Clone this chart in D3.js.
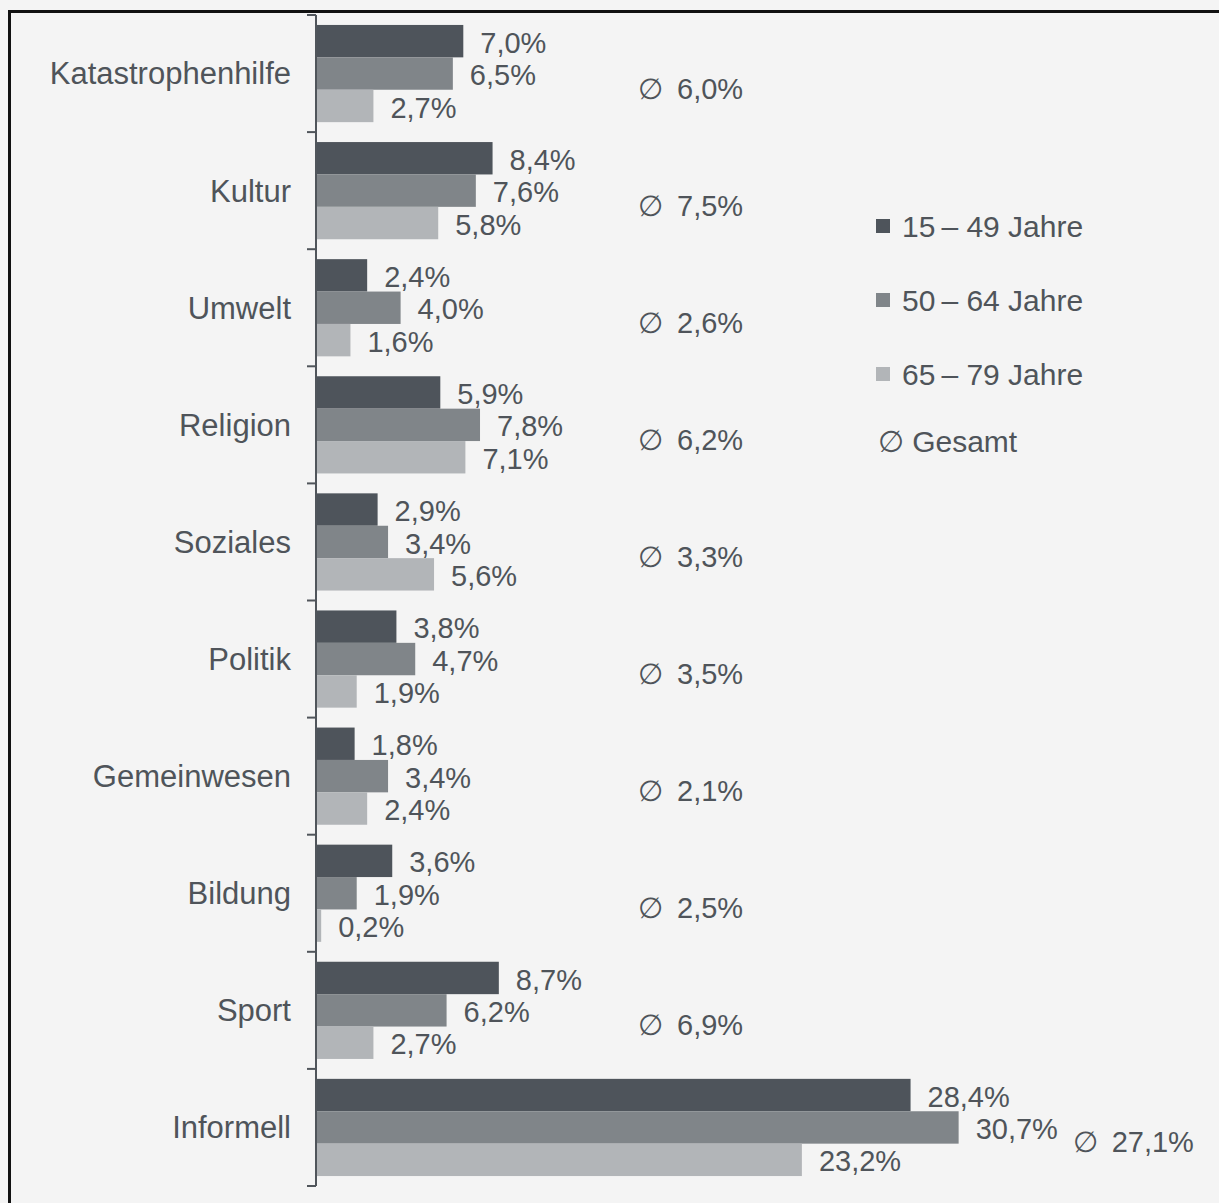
<!DOCTYPE html>
<html>
<head>
<meta charset="utf-8">
<script src="https://cdn.jsdelivr.net/npm/d3@7"></script>
<style>
  body { margin: 0; background: #f4f4f4; }
  svg { display: block; }
  text { font-family: "Liberation Sans", Arial, sans-serif; fill: #4f545a; }
</style>
</head>
<body>
<div id="chart"></div>
<script>
// data
var categories = ["Katastrophenhilfe", "Kultur", "Umwelt", "Religion", "Soziales",
                  "Politik", "Gemeinwesen", "Bildung", "Sport", "Informell"];
var age15_49 = [7.0, 8.4, 2.4, 5.9, 2.9, 3.8, 1.8, 3.6, 8.7, 28.4];
var age50_64 = [6.5, 7.6, 4.0, 7.8, 3.4, 4.7, 3.4, 1.9, 6.2, 30.7];
var age65_79 = [2.7, 5.8, 1.6, 7.1, 5.6, 1.9, 2.4, 0.2, 2.7, 23.2];
var gesamt   = [6.0, 7.5, 2.6, 6.2, 3.3, 3.5, 2.1, 2.5, 6.9, 27.1];
var seriesNames = ["15\u2009\u2013 49 Jahre", "50\u2009\u2013 64 Jahre", "65\u2009\u2013 79 Jahre"];
var colors = ["#4e545b", "#808589", "#b2b5b8"];

var width = 1219, height = 1203;

var de = d3.formatLocale({decimal: ",", thousands: ".", grouping: [3], currency: ["", " €"]});
var fmt = de.format(".1f");

var rows = categories.map(function (c, i) {
  return {cat: c, vals: [age15_49[i], age50_64[i], age65_79[i]], avg: gesamt[i]};
});

var svg = d3.select("#chart").append("svg")
    .attr("width", width)
    .attr("height", height);

svg.append("rect")
    .attr("width", width).attr("height", height)
    .attr("fill", "#f4f4f4");

// frame
svg.append("path")
    .attr("d", "M9.5," + height + "V11.5H" + width)
    .attr("fill", "none")
    .attr("stroke", "#111")
    .attr("stroke-width", 3);

var x = d3.scaleLinear().domain([0, 32]).range([317, 317 + 32 * 20.9]);

var y0 = d3.scaleBand()
    .domain(categories)
    .range([15, 1186])
    .paddingInner(0.17)
    .paddingOuter(0.085);

var y1 = d3.scaleBand()
    .domain([0, 1, 2])
    .range([0, y0.bandwidth()]);

// axis with ticks between categories
var axisG = svg.append("g");
axisG.append("line")
    .attr("x1", 316).attr("x2", 316)
    .attr("y1", y0.range()[0]).attr("y2", y0.range()[1])
    .attr("stroke", "#50555b").attr("stroke-width", 2);

var boundaries = d3.range(categories.length + 1).map(function (k) {
  return y0.range()[0] + k * y0.step();
});
axisG.selectAll(".tk").data(boundaries).enter().append("line")
    .attr("x1", 307).attr("x2", 316)
    .attr("y1", function (d) { return d; })
    .attr("y2", function (d) { return d; })
    .attr("stroke", "#50555b").attr("stroke-width", 2);

var groups = svg.selectAll(".grp").data(rows).enter().append("g")
    .attr("transform", function (d) { return "translate(0," + y0(d.cat) + ")"; });

groups.selectAll("rect").data(function (d) { return d.vals; }).enter().append("rect")
    .attr("x", x(0))
    .attr("y", function (d, i) { return y1(i); })
    .attr("width", function (d) { return x(d) - x(0); })
    .attr("height", y1.bandwidth())
    .attr("fill", function (d, i) { return colors[i]; });

groups.selectAll(".val").data(function (d) { return d.vals; }).enter().append("text")
    .attr("x", function (d) { return x(d) + 17; })
    .attr("y", function (d, i) { return y1(i) + y1.bandwidth() / 2; })
    .attr("dy", "0.4em")
    .style("font-size", "29px")
    .text(function (d) { return fmt(d) + "%"; });

// category labels
svg.selectAll(".cat").data(rows).enter().append("text")
    .attr("x", 291)
    .attr("y", function (d) { return y0(d.cat) + y0.bandwidth() / 2; })
    .attr("dy", "0.35em")
    .attr("text-anchor", "end")
    .style("font-size", "31px")
    .text(function (d) { return d.cat; });

// average labels
var avgText = svg.selectAll(".avg").data(rows).enter().append("text")
    .attr("x", function (d) { return Math.max(638, x(d3.max(d.vals)) + 114); })
    .attr("y", function (d) { return y0(d.cat) + y0.bandwidth() / 2 + 25; })
    .style("font-size", "29px");
avgText.append("tspan")
    .style("font-family", "DejaVu Sans")
    .style("font-weight", "200")
    .text("\u2205");
avgText.append("tspan")
    .attr("dx", 14)
    .text(function (d) { return fmt(d.avg) + "%"; });

// legend
var ly = d3.scalePoint().domain([0, 1, 2]).range([226, 374]);
var legend = svg.append("g");
legend.selectAll("rect").data(seriesNames).enter().append("rect")
    .attr("x", 876)
    .attr("y", function (d, i) { return ly(i) - 7; })
    .attr("width", 14).attr("height", 14)
    .attr("fill", function (d, i) { return colors[i]; });
legend.selectAll("text").data(seriesNames).enter().append("text")
    .attr("x", 902)
    .attr("y", function (d, i) { return ly(i); })
    .attr("dy", "0.38em")
    .style("font-size", "30px")
    .text(function (d) { return d; });

var gl = legend.append("text")
    .attr("x", 878)
    .attr("y", ly(2) + 67)
    .attr("dy", "0.38em")
    .style("font-size", "30px");
gl.append("tspan").style("font-family", "DejaVu Sans").text("\u2205");
gl.append("tspan").attr("dx", 8).text("Gesamt");
</script>
</body>
</html>
